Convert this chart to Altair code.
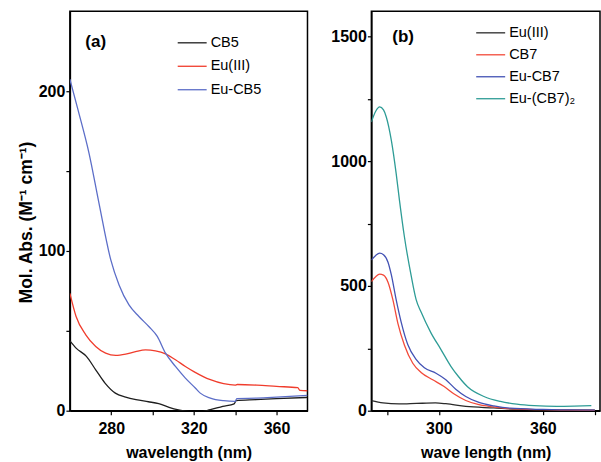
import altair as alt
import pandas as pd

FONT = "Liberation Sans, Arial"

# ---------------- Panel (a) data ----------------
a_cb5_wl = [260, 263, 268, 272.5, 277, 282, 287, 292, 298, 303, 308, 312, 316, 322, 328, 334, 339.5, 340.5, 350, 360, 375]
a_cb5_val = [43.7, 39.2, 34, 25.6, 17.3, 11, 8.5, 6.9, 5.6, 4.4, 2.1, 0.6, -0.3, -1.0, 0.6, 2.7, 4.3, 6.3, 6.9, 7.5, 8.3]

a_eu_wl = [260, 263, 267.7, 272.5, 277.3, 282.2, 287, 291.8, 296.6, 301.4, 306.3, 311.1, 315.9, 320, 328, 334.4, 340, 341, 350.5, 360, 370.3, 371.3, 375]
a_eu_val = [73.5, 59, 47.5, 40.2, 36, 34.6, 35.4, 37, 38.1, 37.5, 35.6, 31.9, 27.7, 24.5, 19.4, 16.9, 16.0, 16.4, 16.0, 15.2, 14.4, 12.7, 12.5]

a_eucb5_wl = [260, 264, 269.3, 274.1, 279.8, 283.8, 288.6, 293.4, 298.2, 302.3, 306.3, 311.1, 315.9, 320.7, 323.1, 328, 334.4, 340, 340.8, 350.5, 360, 375]
a_eucb5_val = [207.5, 188, 161, 129.8, 94.4, 78.7, 66.2, 59, 52.7, 46.5, 36, 27.7, 20.4, 14.2, 11.0, 7.9, 6.25, 5.8, 7.6, 7.9, 8.5, 9.6]

a_series = ["CB5", "Eu(III)", "Eu-CB5"]
a_colors = ["#1e1e1e", "#f03c2c", "#5c6ec8"]

# ---------------- Panel (b) data ----------------
b_eu_wl = [261, 267.7, 277, 287, 298, 304, 315.5, 331.7, 345, 360, 375, 390]
b_eu_val = [40, 31, 27, 29, 31, 28, 17, 11, 6, 3, 2, 2]

b_cb7_wl = [261, 263.5, 265.8, 268, 270.6, 273.4, 276.3, 280.1, 284.9, 289.7, 296.4, 303, 308.8, 315.5, 323.1, 331.7, 341, 360, 375, 390]
b_cb7_val = [517, 537, 547, 543, 515, 445, 350, 262, 190, 153, 124, 97, 67, 41, 24, 15, 8, 4, 2, 1]

b_eucb7_wl = [261, 263.5, 265.8, 268, 270.6, 272.5, 275.3, 278.2, 282, 286.8, 291.6, 298.3, 304, 309.7, 315.5, 323.1, 331.7, 341, 360, 375, 390]
b_eucb7_val = [604, 622, 631, 625, 595, 545, 445, 355, 265, 206, 172, 150, 124, 86, 57, 33, 19, 10, 5, 3, 2]

b_eucb72_wl = [261, 263.5, 265.8, 268, 269.6, 272.5, 275.3, 277.2, 280, 284, 286.8, 289.7, 295.4, 301.1, 306.9, 311.5, 316.5, 326, 335.5, 345, 355, 368, 378, 388]
b_eucb72_val = [1157, 1200, 1217, 1205, 1177, 1084, 951, 844, 700, 540, 446, 395, 312, 246, 178, 135, 96, 57, 37, 26, 20, 17, 18, 20]

b_series = ["Eu(III)", "CB7", "Eu-CB7", "Eu-(CB7)\u2082"]
b_colors = ["#2a2a2a", "#f24a3a", "#4352b4", "#2e9c96"]

# panel labels
a_label = {"x": [272.5], "y": [230.6], "t": ["(a)"]}
b_label = {"x": [279.3], "y": [1496], "t": ["(b)"]}


def frame(pairs):
    rows = []
    for name, wl, val in pairs:
        for w, v in zip(wl, val):
            rows.append({"series": name, "wl": w, "val": v})
    return pd.DataFrame(rows)


a_df = frame([(a_series[0], a_cb5_wl, a_cb5_val),
              (a_series[1], a_eu_wl, a_eu_val),
              (a_series[2], a_eucb5_wl, a_eucb5_val)])
b_df = frame([(b_series[0], b_eu_wl, b_eu_val),
              (b_series[1], b_cb7_wl, b_cb7_val),
              (b_series[2], b_eucb7_wl, b_eucb7_val),
              (b_series[3], b_eucb72_wl, b_eucb72_val)])


def legend(x, y, rp):
    return alt.Legend(orient="none", legendX=x, legendY=y, title=None,
                      symbolType="stroke", symbolSize=841, symbolStrokeWidth=1.3,
                      labelFont=FONT, labelFontSize=14.5, labelColor="black",
                      labelOffset=3, rowPadding=rp, padding=0, offset=0)


lines_a = alt.Chart(a_df).mark_line(strokeWidth=1.3, clip=True, interpolate="monotone").encode(
    x=alt.X("wl:Q", scale=alt.Scale(domain=[260, 375], nice=False, zero=False),
            axis=alt.Axis(values=[280, 300, 320, 340, 360],
                          labelExpr="datum.value % 40 == 0 ? datum.label : ''",
                          title="wavelength (nm)")),
    y=alt.Y("val:Q", scale=alt.Scale(domain=[0, 250], nice=False),
            axis=alt.Axis(values=[0, 50, 100, 150, 200], format="d",
                          labelExpr="datum.value % 100 == 0 ? datum.label : ''",
                          title="Mol. Abs. (M\u207b\u00b9 cm\u207b\u00b9)",
                          titleFontSize=17.5, titleY=211)),
    color=alt.Color("series:N", scale=alt.Scale(domain=a_series, range=a_colors),
                    legend=legend(107, 16, 1.5)),
)
text_a = alt.Chart(pd.DataFrame(a_label)).mark_text(
    font=FONT, fontSize=17, fontWeight="bold", color="black").encode(
    x="x:Q", y="y:Q", text="t:N")
panel_a = alt.layer(lines_a, text_a).properties(width=238, height=400)

lines_b = alt.Chart(b_df).mark_line(strokeWidth=1.3, clip=True, interpolate="monotone").encode(
    x=alt.X("wl:Q", scale=alt.Scale(domain=[261, 393], nice=False, zero=False),
            axis=alt.Axis(values=[270, 300, 330, 360, 390],
                          labelExpr="datum.value % 60 == 0 ? datum.label : ''",
                          title="wave length (nm)")),
    y=alt.Y("val:Q", scale=alt.Scale(domain=[0, 1600], nice=False),
            axis=alt.Axis(values=[0, 250, 500, 750, 1000, 1250, 1500], format="d",
                          labelExpr="datum.value % 500 == 0 ? datum.label : ''",
                          title=None)),
    color=alt.Color("series:N", scale=alt.Scale(domain=b_series, range=b_colors),
                    legend=legend(104, 6, 0)),
)
text_b = alt.Chart(pd.DataFrame(b_label)).mark_text(
    font=FONT, fontSize=17, fontWeight="bold", color="black").encode(
    x="x:Q", y="y:Q", text="t:N")
panel_b = alt.layer(lines_b, text_b).properties(width=229, height=400)

chart = alt.hconcat(panel_a, panel_b, spacing=21).resolve_scale(
    color="independent", x="independent", y="independent"
).properties(
    padding={"left": 16, "top": 10, "right": 0, "bottom": 0},
    background="white",
).configure_view(
    stroke="black", strokeWidth=1.5
).configure_axis(
    grid=False, domainColor="black", domainWidth=1.5,
    tickColor="black", tickSize=4, tickWidth=1.2,
    labelFont=FONT, labelFontSize=16, labelFontWeight="bold", labelColor="black",
    titleFont=FONT, titleFontSize=16, titleFontWeight="bold", titleColor="black",
    labelPadding=1, titlePadding=3,
).configure_axisX(labelPadding=6, titlePadding=8)

chart.save("out.html", embed_options={"renderer": "svg", "actions": False})
